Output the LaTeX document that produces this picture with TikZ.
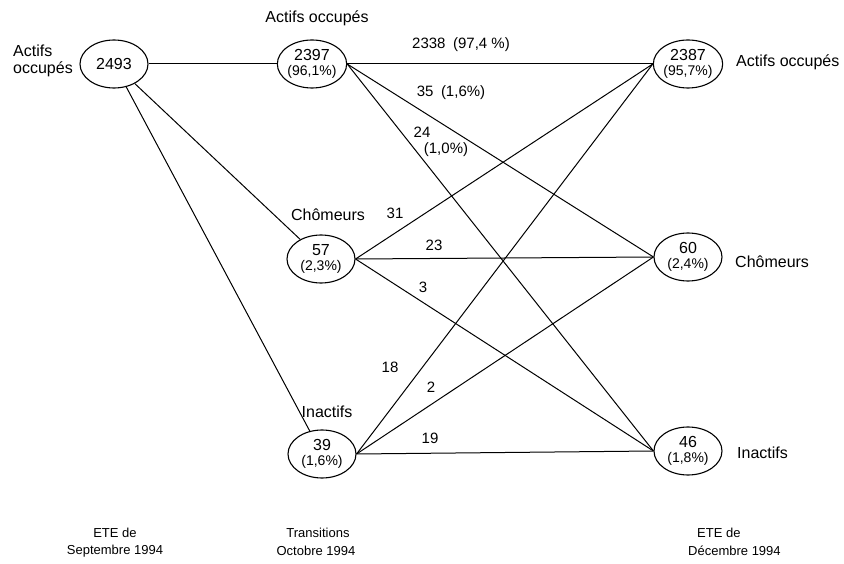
\documentclass[tikz,border=0pt]{standalone}
\usepackage{fontspec}
\setmainfont{Liberation Sans}
\usetikzlibrary{shapes.geometric}
\newcommand{\bignum}[1]{{\fontsize{16}{16}\selectfont #1}}
\begin{document}
\begin{tikzpicture}[x=1pt,y=-1pt,
  state/.style={draw,ellipse,line width=1.1pt,minimum width=68pt,minimum height=48pt,inner sep=0pt,align=center,font=\fontsize{14}{15}\selectfont},
  lbl/.style={font=\fontsize{16}{17}\selectfont,inner sep=0pt},
  flw/.style={font=\fontsize{15}{16}\selectfont,inner sep=0pt},
  captxt/.style={font=\fontsize{13}{14}\selectfont,inner sep=0pt},
  link/.style={line width=1pt}]
\useasboundingbox (0,0) rectangle (844,564);
% states
\node[state] (L)  at (114,64) {\bignum{2493}};
\node[state] (MA) at (312,64) {\bignum{2397}\\(96,1\%)};
\node[state] (MC) at (321,259) {\bignum{57}\\(2,3\%)};
\node[state] (MI) at (322,454) {\bignum{39}\\(1,6\%)};
\node[state] (RA) at (688,64) {\bignum{2387}\\(95,7\%)};
\node[state] (RC) at (688,257) {\bignum{60}\\(2,4\%)};
\node[state] (RI) at (688,451) {\bignum{46}\\(1,8\%)};
% links
\draw[link] (L) -- (MA);
\draw[link] (L) -- (MC);
\draw[link] (L) -- (MI);
\foreach \m in {MA,MC,MI}{
  \foreach \r in {RA,RC,RI}{
    \draw[link] (\m.east) -- (\r.west);
  }
}
% state labels
\node[lbl,align=left,anchor=east] (tL) at (73,61) {Actifs\\occupés};
\node[lbl] (tMA) at (317,18) {Actifs occupés};
\node[lbl] (tMC) at (328,215) {Chômeurs};
\node[lbl] (tMI) at (327,412) {Inactifs};
\node[lbl,anchor=west] (tRA) at (736,62) {Actifs occupés};
\node[lbl,anchor=west] (tRC) at (735,262) {Chômeurs};
\node[lbl,anchor=west] (tRI) at (737,453) {Inactifs};
% flow labels
\node[flw] (f1) at (461,45) {2338\enspace(97,4 \%)};
\node[flw] (f2) at (451,93) {35\enspace(1,6\%)};
\node[flw] (f3) at (422,132) {24};
\node[flw] (f3b) at (446,150) {(1,0\%)};
\node[flw] (f4) at (395,213) {31};
\node[flw] (f5) at (434,245) {23};
\node[flw] (f6) at (423,287) {3};
\node[flw] (f7) at (390,367) {18};
\node[flw] (f8) at (431,387) {2};
\node[flw] (f9) at (430,438) {19};
% bottom captions
\node[captxt] (b1) at (115,533) {ETE de};
\node[captxt] (b1b) at (115,551) {Septembre 1994};
\node[captxt] (b2) at (318,533) {Transitions};
\node[captxt] (b2b) at (316,551) {Octobre 1994};
\node[captxt,anchor=west] (b3) at (697,533) {ETE de};
\node[captxt,anchor=west] (b3b) at (688,551) {Décembre 1994};
\end{tikzpicture}
\end{document}
